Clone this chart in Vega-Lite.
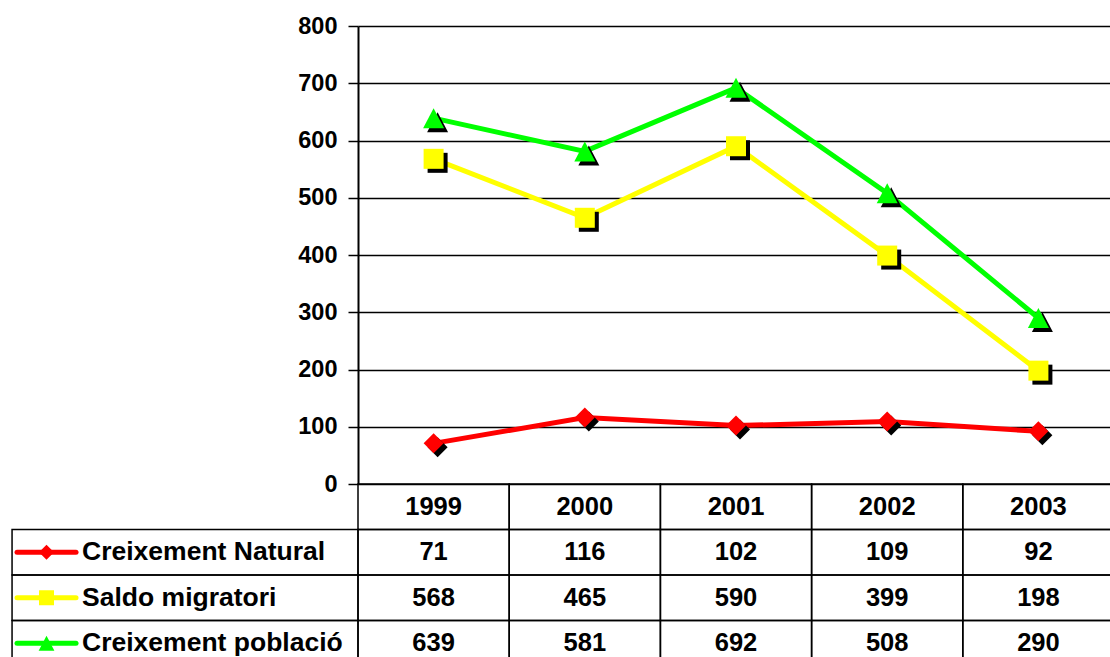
{
  "$schema": "https://vega.github.io/schema/vega-lite/v6.json",
  "width": 752,
  "height": 458,
  "padding": {"left": 358, "top": 26, "right": 0, "bottom": 173},
  "autosize": {"type": "none"},
  "background": "white",
  "config": {"view": {"stroke": null}, "font": "Liberation Sans"},
  "data": {
    "values": [
      {"series": "Creixement Natural", "year": 1999, "value": 71},
      {"series": "Creixement Natural", "year": 2000, "value": 116},
      {"series": "Creixement Natural", "year": 2001, "value": 102},
      {"series": "Creixement Natural", "year": 2002, "value": 109},
      {"series": "Creixement Natural", "year": 2003, "value": 92},
      {"series": "Saldo migratori", "year": 1999, "value": 568},
      {"series": "Saldo migratori", "year": 2000, "value": 465},
      {"series": "Saldo migratori", "year": 2001, "value": 590},
      {"series": "Saldo migratori", "year": 2002, "value": 399},
      {"series": "Saldo migratori", "year": 2003, "value": 198},
      {"series": "Creixement població", "year": 1999, "value": 639},
      {"series": "Creixement població", "year": 2000, "value": 581},
      {"series": "Creixement població", "year": 2001, "value": 692},
      {"series": "Creixement població", "year": 2002, "value": 508},
      {"series": "Creixement població", "year": 2003, "value": 290}
    ]
  },
  "resolve": {"scale": {"y": "independent"}},
  "layer": [
    {
      "encoding": {
        "x": {"field": "year", "type": "quantitative", "scale": {"domain": [1998.5, 2003.4735], "nice": false, "zero": false}, "axis": null},
        "y": {
          "field": "value", "type": "quantitative",
          "scale": {"domain": [0, 800], "range": [458, 0], "nice": false, "zero": false},
          "axis": {
            "orient": "left", "values": [0, 100, 200, 300, 400, 500, 600, 700, 800],
            "grid": true, "gridColor": "#000000", "gridWidth": 1.5, "gridOpacity": 1,
            "domainColor": "#000000", "domainWidth": 2,
            "tickColor": "#000000", "tickSize": 10, "tickWidth": 1.5,
            "labelFont": "Liberation Sans", "labelFontWeight": "bold", "labelFontSize": 23.5,
            "labelColor": "#000000", "labelPadding": 11, "labelFlush": false, "title": null
          }
        }
      },
      "layer": [
        {
          "mark": {"type": "line", "strokeWidth": 5},
          "encoding": {
            "color": {"field": "series", "type": "nominal",
              "scale": {"domain": ["Creixement Natural", "Saldo migratori", "Creixement població"], "range": ["#FF0000", "#FFFF00", "#00FF00"]},
              "legend": null}
          }
        },
        {
          "mark": {"type": "point", "filled": true, "color": "#000000", "opacity": 1, "size": 400, "strokeWidth": 0, "xOffset": 4, "yOffset": 4},
          "encoding": {
            "shape": {"field": "series", "type": "nominal",
              "scale": {"domain": ["Creixement Natural", "Saldo migratori", "Creixement població"], "range": ["M0,-1L1,0L0,1L-1,0Z", "M-1,-1H1V1H-1Z", "M0,-1L1.05,1L-1.05,1Z"]},
              "legend": null}
          }
        },
        {
          "mark": {"type": "point", "filled": true, "opacity": 1, "size": 400, "strokeWidth": 0},
          "encoding": {
            "color": {"field": "series", "type": "nominal", "legend": null},
            "shape": {"field": "series", "type": "nominal", "legend": null}
          }
        }
      ]
    },
    {
      "encoding": {
        "y": {"field": "series", "type": "nominal",
          "scale": {"type": "band", "domain": ["year", "Creixement Natural", "Saldo migratori", "Creixement població"], "range": [458, 640], "paddingInner": 0, "paddingOuter": 0},
          "axis": null}
      },
      "layer": [
        {
          "mark": {"type": "rect", "width": 151.2, "fill": "transparent", "stroke": "#000000", "strokeWidth": 1.5},
          "encoding": {
            "x": {"field": "year", "type": "quantitative", "scale": {"domain": [1998.5, 2003.4735], "nice": false, "zero": false}}
          }
        },
        {
          "transform": [{"filter": "datum.series === 'Creixement Natural'"}],
          "mark": {"type": "rect", "width": 151.2, "fill": "transparent", "stroke": "#000000", "strokeWidth": 1.5},
          "encoding": {
            "x": {"field": "year", "type": "quantitative"},
            "y": {"datum": "year", "type": "nominal"}
          }
        },
        {
          "transform": [{"filter": "datum.year === 1999"}],
          "mark": {"type": "rect", "fill": "transparent", "stroke": "#000000", "strokeWidth": 1.5},
          "encoding": {
            "x": {"datum": 1996.212, "type": "quantitative"},
            "x2": {"datum": 1998.5}
          }
        },
        {
          "transform": [{"filter": "datum.series === 'Creixement Natural'"}],
          "mark": {"type": "text", "font": "Liberation Sans", "fontWeight": "bold", "fontSize": 25.5, "color": "#000000", "baseline": "middle", "align": "center"},
          "encoding": {
            "x": {"field": "year", "type": "quantitative"},
            "y": {"datum": "year", "type": "nominal"},
            "text": {"field": "year", "type": "nominal"}
          }
        },
        {
          "mark": {"type": "text", "font": "Liberation Sans", "fontWeight": "bold", "fontSize": 25.5, "color": "#000000", "baseline": "middle", "align": "center"},
          "encoding": {
            "x": {"field": "year", "type": "quantitative"},
            "text": {"field": "value", "type": "quantitative"}
          }
        },
        {
          "transform": [{"filter": "datum.year === 1999"}],
          "mark": {"type": "rule", "strokeWidth": 5, "strokeCap": "round"},
          "encoding": {
            "x": {"datum": 1996.245, "type": "quantitative"},
            "x2": {"datum": 1996.635},
            "color": {"field": "series", "type": "nominal", "legend": null}
          }
        },
        {
          "transform": [{"filter": "datum.year === 1999"}],
          "mark": {"type": "point", "filled": true, "opacity": 1, "size": 225, "strokeWidth": 0},
          "encoding": {
            "x": {"datum": 1996.44, "type": "quantitative"},
            "color": {"field": "series", "type": "nominal", "legend": null},
            "shape": {"field": "series", "type": "nominal", "legend": null}
          }
        },
        {
          "transform": [{"filter": "datum.year === 1999"}],
          "mark": {"type": "text", "font": "Liberation Sans", "fontWeight": "bold", "fontSize": 26.5, "color": "#000000", "baseline": "middle", "align": "left"},
          "encoding": {
            "x": {"datum": 1996.675, "type": "quantitative"},
            "text": {"field": "series", "type": "nominal"}
          }
        }
      ]
    }
  ]
}
